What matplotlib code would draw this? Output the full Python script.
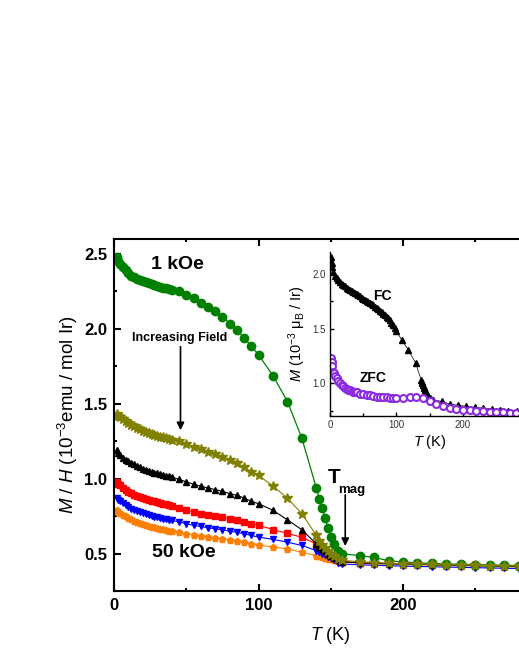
import matplotlib
matplotlib.use("Agg")
import matplotlib.pyplot as plt
from matplotlib.ticker import MultipleLocator, FixedLocator

plt.rcParams['font.family'] = ['Liberation Sans', 'DejaVu Sans']
plt.rcParams['mathtext.fontset'] = 'custom'
plt.rcParams['mathtext.rm'] = 'Liberation Sans'
plt.rcParams['mathtext.it'] = 'Liberation Sans:italic'
plt.rcParams['mathtext.bf'] = 'Liberation Sans:bold'

# temperature grid of the M/H curves (K)
T_low = [1.8, 3, 4, 6, 8, 10, 12, 14, 16, 18, 20, 22, 24, 26, 28, 30, 32, 34, 36, 38, 40]
T_mid = [45, 50, 55, 60, 65, 70, 75, 80, 85, 90, 95, 100]
T_hi = [110, 120, 130, 140, 142, 144, 146, 148, 150, 152, 155, 158]
T_tail = [170, 180, 190, 200, 210, 220, 230, 240, 250, 260, 270, 280, 290, 300]
T_main = T_low + T_mid + T_hi + T_tail

# M/H (10^-3 emu / mol Ir), one list per field
mh_1kOe = [2.48, 2.45, 2.43, 2.41, 2.39, 2.37, 2.355, 2.345, 2.335, 2.325, 2.32, 2.31, 2.305, 2.30, 2.29,
           2.285, 2.28, 2.275, 2.27, 2.265, 2.26,
           2.25, 2.227, 2.203, 2.176, 2.146, 2.117, 2.082, 2.035, 1.99, 1.94, 1.885, 1.827,
           1.688, 1.515, 1.27, 0.938, 0.867, 0.807, 0.737, 0.672, 0.609, 0.565, 0.52, 0.498,
           0.487, 0.474, 0.452, 0.444, 0.438, 0.434, 0.431, 0.428, 0.426, 0.424, 0.422, 0.42, 0.418, 0.416]
mh_f2 = [1.43, 1.42, 1.41, 1.40, 1.385, 1.37, 1.36, 1.35, 1.34, 1.33, 1.32, 1.31, 1.305, 1.30, 1.29,
         1.285, 1.28, 1.275, 1.27, 1.265, 1.26,
         1.252, 1.23, 1.213, 1.196, 1.18, 1.162, 1.142, 1.124, 1.102, 1.079, 1.046, 1.023,
         0.95, 0.87, 0.766, 0.621, 0.587, 0.56, 0.54, 0.52, 0.50, 0.487, 0.465, 0.455,
         0.445, 0.44, 0.435, 0.432, 0.43, 0.428, 0.426, 0.424, 0.422, 0.42, 0.418, 0.416, 0.414, 0.412]
mh_f3 = [1.19, 1.17, 1.16, 1.14, 1.125, 1.115, 1.105, 1.095, 1.085, 1.075, 1.068, 1.06, 1.053, 1.047, 1.041,
         1.036, 1.031, 1.026, 1.02, 1.015, 1.01,
         0.995, 0.979, 0.963, 0.95, 0.938, 0.927, 0.916, 0.90, 0.889, 0.871, 0.849, 0.833,
         0.789, 0.725, 0.659, 0.565, 0.545, 0.53, 0.515, 0.50, 0.485, 0.47, 0.455, 0.445,
         0.438, 0.435, 0.432, 0.43, 0.428, 0.426, 0.424, 0.422, 0.42, 0.418, 0.416, 0.414, 0.412, 0.41]
mh_f4 = [0.98, 0.965, 0.955, 0.94, 0.925, 0.912, 0.902, 0.894, 0.887, 0.88, 0.873, 0.866, 0.86, 0.854, 0.848,
         0.843, 0.838, 0.833, 0.828, 0.823, 0.815,
         0.804, 0.789, 0.777, 0.767, 0.76, 0.75, 0.744, 0.733, 0.722, 0.71, 0.70, 0.69,
         0.66, 0.635, 0.609, 0.565, 0.55, 0.535, 0.52, 0.50, 0.485, 0.47, 0.455, 0.445,
         0.44, 0.437, 0.434, 0.432, 0.43, 0.428, 0.426, 0.424, 0.422, 0.42, 0.418, 0.416, 0.414, 0.412]
mh_f5 = [0.87, 0.857, 0.848, 0.835, 0.822, 0.81, 0.80, 0.793, 0.786, 0.779, 0.772, 0.765, 0.758, 0.752, 0.747,
         0.742, 0.738, 0.734, 0.73, 0.726, 0.722,
         0.71, 0.70, 0.688, 0.681, 0.672, 0.666, 0.659, 0.649, 0.643, 0.632, 0.621, 0.61,
         0.595, 0.576, 0.554, 0.52, 0.51, 0.50, 0.49, 0.48, 0.47, 0.455, 0.44, 0.43,
         0.425, 0.422, 0.419, 0.416, 0.414, 0.412, 0.41, 0.408, 0.406, 0.404, 0.402, 0.40, 0.398, 0.396]
mh_50kOe = [0.79, 0.78, 0.772, 0.76, 0.748, 0.737, 0.728, 0.72, 0.712, 0.705, 0.698, 0.692, 0.686, 0.68, 0.675,
            0.67, 0.666, 0.662, 0.658, 0.654, 0.65,
            0.643, 0.632, 0.626, 0.616, 0.609, 0.603, 0.598, 0.592, 0.582, 0.576, 0.565, 0.556,
            0.545, 0.53, 0.509, 0.487, 0.482, 0.477, 0.472, 0.467, 0.462, 0.457, 0.45, 0.445,
            0.435, 0.432, 0.429, 0.426, 0.424, 0.422, 0.42, 0.418, 0.416, 0.414, 0.412, 0.41, 0.408, 0.406]

# inset: M (10^-3 muB / Ir), FC and ZFC
T_fc = [1.8, 2.5, 3.5, 5, 7.5, 10, 12.5, 15, 17.5, 20, 22.5, 25, 27.5, 30, 32.5, 35, 37.5, 40, 42.5, 45,
        47.5, 50, 52.5, 55, 57.5, 60, 62.5, 65, 67.5, 70, 72.5, 75, 77.5, 80, 82.5, 85, 87.5, 90, 92.5, 95,
        97.5, 100, 108, 118, 129, 137, 138, 139, 140, 141, 142, 143, 144, 145, 146, 147, 148, 150, 152, 155,
        168, 180, 193, 205, 218, 230, 243, 256, 268, 281, 293]
m_fc = [2.15, 2.10, 2.06, 2.02, 1.985, 1.96, 1.94, 1.925, 1.91, 1.895, 1.885, 1.875, 1.865, 1.853, 1.843,
        1.833, 1.823, 1.813, 1.803, 1.793, 1.783, 1.773, 1.763, 1.753, 1.743, 1.732, 1.722, 1.712, 1.70,
        1.688, 1.675, 1.662, 1.65, 1.636, 1.622, 1.607, 1.592, 1.575, 1.553, 1.53, 1.503, 1.475,
        1.394, 1.303, 1.182, 1.03, 1.015, 1.0, 0.985, 0.969, 0.953, 0.938, 0.923, 0.909, 0.897, 0.886,
        0.876, 0.864, 0.856, 0.848, 0.833, 0.81, 0.797, 0.788, 0.778, 0.773, 0.764, 0.757, 0.748, 0.742, 0.736]
T_zfc = [1.8, 2.5, 3.5, 5, 6, 7.5, 10, 12.5, 15, 17.5, 20, 22.5, 25, 27.5, 30, 32.5, 35, 37.5, 40,
         45, 50, 55, 60, 65, 70, 75, 80, 85, 90, 95, 100,
         110, 120, 130, 140, 150, 160, 170, 180, 190, 200, 210, 220, 230, 240, 250, 260, 270, 280, 290, 300]
m_zfc = [1.227, 1.19, 1.16, 1.105, 1.09, 1.07, 1.045, 1.02, 1.0, 0.985, 0.972, 0.96, 0.95, 0.94, 0.933,
         0.927, 0.922, 0.918, 0.915,
         0.905, 0.898, 0.893, 0.888, 0.883, 0.878, 0.874, 0.871, 0.869, 0.867, 0.865, 0.864,
         0.864, 0.869, 0.873, 0.864, 0.839, 0.809, 0.788, 0.773, 0.764, 0.757, 0.751, 0.745, 0.742, 0.739,
         0.736, 0.733, 0.73, 0.727, 0.724, 0.721]

fig = plt.figure(figsize=(5.19, 6.72), dpi=100)
ax = fig.add_axes([0.2197, 0.1205, 0.8353, 0.5238])

# drawing order: low field on top
ax.plot(T_main, mh_50kOe, '-p', color='#ff7f00', ms=5, lw=0.8)
ax.plot(T_main, mh_f5, '-v', color='#0000ff', ms=5, lw=0.8)
ax.plot(T_main, mh_f4, '-s', color='#ff0000', ms=4, lw=0.8)
ax.plot(T_main, mh_f3, '-^', color='black', ms=5, lw=0.8)
ax.plot(T_main, mh_1kOe, '-o', color='#008000', ms=6, lw=0.9)
ax.plot(T_main, mh_f2, '-*', color='#808000', ms=7.5, lw=0.8)

ax.set_xlim(0, 300)
ax.set_ylim(0.25, 2.6)
# only the labels that fit inside the cropped figure
ax.xaxis.set_major_locator(FixedLocator([0, 100, 200]))
ax.xaxis.set_minor_locator(FixedLocator([50, 150, 250, 300]))
ax.yaxis.set_major_locator(MultipleLocator(0.5))
ax.yaxis.set_minor_locator(MultipleLocator(0.25))
ax.tick_params(which='both', direction='in', top=True, right=True, width=1.5)
ax.tick_params(which='major', length=5, labelsize=12, pad=5)
ax.tick_params(which='minor', length=2.5)
for s in ax.spines.values():
    s.set_linewidth(1.5)
plt.setp(ax.get_xticklabels(), fontweight='bold')
plt.setp(ax.get_yticklabels(), fontweight='bold')
ax.set_xlabel(r'$T$ (K)', fontsize=13, labelpad=9)
ax.set_ylabel(r'$M$ / $H$ (10$^{-3}$emu / mol Ir)', fontsize=13.5, labelpad=3)

ax.text(43.6, 2.43, '1 kOe', ha='center', va='center', fontsize=14, fontweight='bold')
ax.text(48, 0.51, '50 kOe', ha='center', va='center', fontsize=14, fontweight='bold')
ax.text(45.7, 1.94, 'Increasing Field', ha='center', va='center', fontsize=9, fontweight='bold')
ax.annotate('', xy=(46, 1.305), xytext=(46, 1.9),
            arrowprops=dict(arrowstyle='-|>', color='black', lw=1.2, mutation_scale=11))
ax.text(152, 1.01, 'T', ha='center', va='center', fontsize=15, fontweight='bold')
ax.text(164.5, 0.925, 'mag', ha='center', va='center', fontsize=9.5, fontweight='bold')
ax.annotate('', xy=(160, 0.532), xytext=(160, 0.91),
            arrowprops=dict(arrowstyle='-|>', color='black', lw=1.2, mutation_scale=11))

# inset
axi = fig.add_axes([0.6358, 0.381, 0.3844, 0.244])
axi.set_facecolor('none')
axi.plot(T_fc, m_fc, '-^', color='black', ms=5, lw=0.5, mec='black')
axi.plot(T_zfc, m_zfc, '-o', color='#8a2be2', mfc='white', mec='#8a2be2', mew=1.5, ms=5, lw=0.5)
axi.set_xlim(0, 300)
axi.set_ylim(0.7, 2.2)
axi.xaxis.set_major_locator(FixedLocator([0, 100, 200]))
axi.xaxis.set_minor_locator(FixedLocator([50, 150, 250]))
axi.yaxis.set_major_locator(MultipleLocator(0.5))
axi.yaxis.set_minor_locator(MultipleLocator(0.25))
axi.spines['top'].set_visible(False)
axi.spines['right'].set_visible(False)
for s in ['left', 'bottom']:
    axi.spines[s].set_linewidth(1.0)
axi.tick_params(which='both', direction='in', width=1.0, labelsize=7, labelcolor='#333333', pad=3)
axi.tick_params(which='major', length=3)
axi.tick_params(which='minor', length=2)
axi.set_xlabel(r'$T$ (K)', fontsize=10.5, labelpad=2)
axi.set_ylabel(r'$M$ (10$^{-3}$ μ$_{\mathrm{B}}$ / Ir)', fontsize=10.5, labelpad=3)
axi.text(79, 1.80, 'FC', ha='center', va='center', fontsize=10, fontweight='bold')
axi.text(64.7, 1.045, 'ZFC', ha='center', va='center', fontsize=10, fontweight='bold')

fig.savefig('out.png', dpi=100)
